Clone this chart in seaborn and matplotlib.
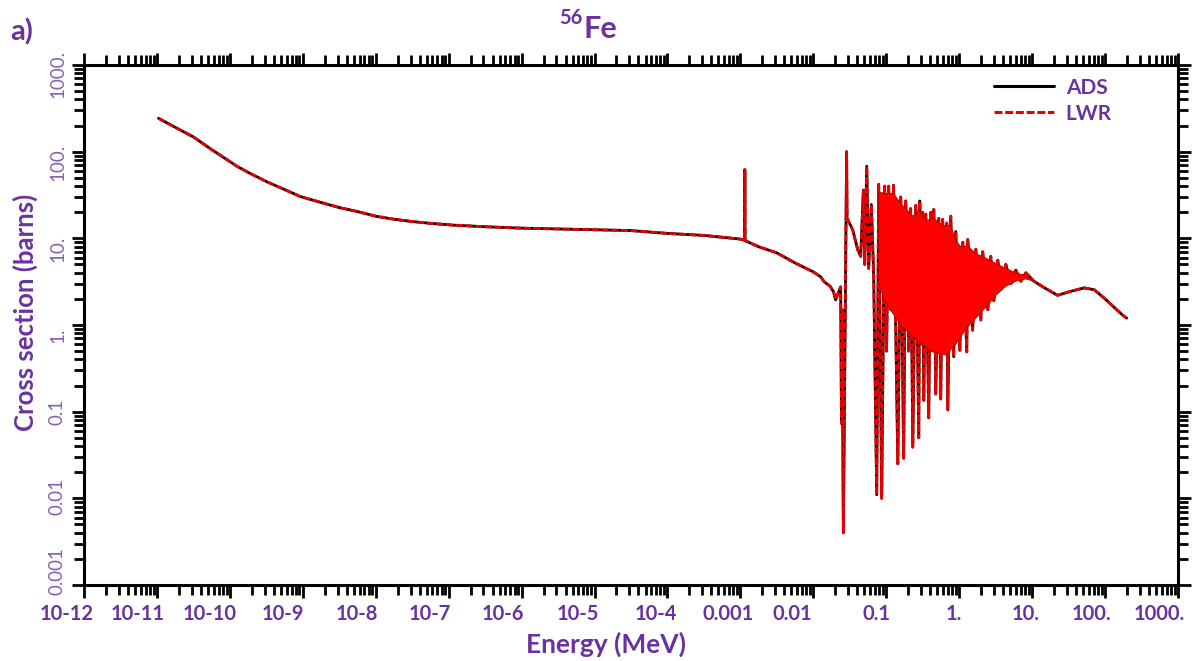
import numpy as np
import pandas as pd
import matplotlib
matplotlib.use("Agg")
import matplotlib.pyplot as plt
import seaborn as sns
from matplotlib.ticker import LogLocator, NullFormatter
from matplotlib.transforms import ScaledTranslation

# ---------------- data ----------------
energy_mev = [
    1.05e-11, 1.78e-11, 3.2e-11, 5.6e-11, 1.26e-10, 1.78e-10, 3.2e-10,
    5.6e-10, 9.2e-10, 1.78e-9, 3.2e-9, 5.6e-9, 1.0e-8, 1.78e-8, 3.2e-8,
    5.6e-8, 1.15e-7, 3.2e-7, 1.0e-6, 3.1e-5, 1.0e-4, 3.2e-4, 1.0e-3,
    1.14e-3, 1.15e-3, 1.16e-3, 1.78e-3, 3.16e-3, 5.6e-3, 0.0100, 0.0126,
    0.0141, 0.0170, 0.0190, 0.0202, 0.0237, 0.0243, 0.0248,
    0.0258, 0.0286, 0.0290, 0.0346, 0.0406, 0.0446, 0.0485, 0.0506, 0.0540,
    0.0574, 0.0625, 0.0673, 0.0740, 0.0787, 0.0865, 0.0951, 0.101, 0.108,
    0.115, 0.126, 0.144, 0.158, 0.173, 0.185, 0.203, 0.216, 0.231, 0.254,
    0.279, 0.288, 0.306, 0.316, 0.327, 0.348, 0.382, 0.407, 0.434, 0.448,
    0.477, 0.525, 0.558, 0.594, 0.630, 0.675, 0.697, 0.766, 0.841, 0.897,
    1.02, 1.12, 1.27, 1.31, 1.53, 1.69, 1.98, 2.10, 2.47, 2.71, 2.98, 3.38,
    3.72, 4.36, 5.10, 5.97, 7.00, 8.19, 10.6, 14.6, 22.3, 34.0, 51.8, 71.0,
    97.0, 133.0, 174.0, 198.0,
]
xs_ads = [
    243, 191, 147, 106, 67.6, 57.7, 45,
    36.6, 30.4, 25.9, 22.6, 20.4, 18.0, 16.6, 15.6,
    14.9, 14.2, 13.6, 13.1, 12.3, 11.4, 10.8, 9.8,
    9.5, 62, 9.4, 8.0, 6.8, 5.2, 4.1, 3.6,
    3.15, 2.8, 2.4, 1.95, 2.75, 0.073, 1.5,
    0.004, 100, 17, 12.6, 7.4, 6.2, 36, 5.0, 68,
    4.5, 24.6, 3.5, 0.011, 42, 0.010, 40, 0.5, 40,
    1.5, 41, 0.025, 30, 0.029, 27, 0.5, 22, 0.039, 24,
    0.05, 27, 0.6, 20, 0.135, 19, 0.085, 20, 0.5, 21.5,
    0.16, 17, 0.14, 16.5, 0.5, 15, 0.105, 18, 0.43, 12,
    0.51, 9, 0.49, 9.7, 0.87, 7.5, 1.14, 7.0, 1.5, 6.2, 1.9, 5.6,
    2.75, 5.0, 3.0, 4.3, 3.2, 4.0, 3.2, 2.7, 2.2, 2.45, 2.68, 2.55,
    2.05, 1.6, 1.3, 1.2,
]
xs_lwr = list(xs_ads)  # both curves coincide in the reference

# dense resonance band, upper and lower edges
band_upper_e = [0.0787, 0.0982, 0.126, 0.158, 0.185, 0.231, 0.279, 0.348,
                0.448, 0.594, 0.766, 0.897, 1.05, 1.31, 1.69, 2.10, 2.71,
                3.38, 4.36, 5.97, 8.19, 10.6]
band_upper_xs = [34, 33, 33, 25, 22, 18, 21, 16, 17, 14, 14, 9.5, 8, 8.2,
                 6.6, 6.2, 5.5, 5.0, 4.5, 4.0, 3.7, 3.2]
band_lower_e = [0.0787, 0.0982, 0.158, 0.254, 0.407, 0.653, 0.897, 1.23,
                1.69, 2.31, 3.18, 4.36, 5.97, 8.19, 10.6]
band_lower_xs = [3.0, 1.8, 1.0, 0.7, 0.5, 0.45, 0.6, 0.9, 1.2, 1.6, 2.2,
                 2.8, 3.2, 3.4, 3.2]

x_tick_values = [1e-12, 1e-11, 1e-10, 1e-9, 1e-8, 1e-7, 1e-6, 1e-5, 1e-4,
                 1e-3, 1e-2, 1e-1, 1e0, 1e1, 1e2, 1e3]
x_tick_labels = ["10-12", "10-11", "10-10", "10-9", "10-8", "10-7", "10-6",
                 "10-5", "10-4", "0.001", "0.01", "0.1", "1.", "10.", "100.",
                 "1000."]
y_tick_values = [1e-3, 1e-2, 1e-1, 1e0, 1e1, 1e2, 1e3]
y_tick_labels = ["0.001", "0.01", "0.1", "1.", "10.", "100.", "1000."]

series_names = ["ADS", "LWR"]

# ---------------- style ----------------
PURPLE = "#6a329f"
PURPLE_LIGHT = "#8660b4"
sns.set_theme(style="ticks")
plt.rcParams["font.family"] = ["Lato", "DejaVu Sans"]

fig = plt.figure(figsize=(12.03, 6.61), dpi=100)
L, R, T, B = 84, 1178, 65, 585
W, H = 1203, 661
ax = fig.add_axes([L / W, 1 - B / H, (R - L) / W, (B - T) / H])

n = len(energy_mev)
df = pd.DataFrame({
    "Energy": energy_mev + energy_mev,
    "CrossSection": xs_ads + xs_lwr,
    "Reactor": [series_names[0]] * n + [series_names[1]] * n,
})

ax.set_xscale("log")
ax.set_yscale("log")

sns.lineplot(
    data=df, x="Energy", y="CrossSection", hue="Reactor", style="Reactor",
    palette={"ADS": "black", "LWR": "#e80000"},
    dashes={"ADS": "", "LWR": (2.6, 0.9)},
    estimator=None, sort=False, lw=2.0, ax=ax, zorder=2,
)

# solid red band of the dense resonances (drawn over the line edges)
poly_e = list(band_upper_e) + list(band_lower_e[::-1])
poly_xs = list(band_upper_xs) + list(band_lower_xs[::-1])
ax.fill(poly_e, poly_xs, facecolor="#ff0000", edgecolor="#b00000", lw=0.6, zorder=3)

ax.set_xlim(1e-12, 1e3)
ax.set_ylim(1e-3, 1e3)

ax.set_xticks(x_tick_values)
ax.set_xticklabels(x_tick_labels)
ax.set_yticks(y_tick_values)
ax.set_yticklabels(y_tick_labels)
ax.xaxis.set_minor_locator(LogLocator(base=10, subs=np.arange(2, 10), numticks=100))
ax.yaxis.set_minor_locator(LogLocator(base=10, subs=np.arange(2, 10), numticks=100))
ax.xaxis.set_minor_formatter(NullFormatter())
ax.yaxis.set_minor_formatter(NullFormatter())

ax.tick_params(which="both", direction="out", top=True, right=True,
               color="black", width=2.0)
ax.tick_params(which="major", length=9)
ax.tick_params(which="minor", length=7)
ax.tick_params(axis="x", which="major", labelsize=14.5, labelcolor=PURPLE, pad=5)
ax.tick_params(axis="y", which="major", labelsize=13.5, labelcolor=PURPLE_LIGHT, pad=4)

# the reference's labels sit a little off their ticks
x_label_shift_px = [-17, -19, -20, -20, -19, -19, -19, -17, -12, -12, -21,
                    -10, -5, -6, -14, -19]
for lab, dx in zip(ax.get_xticklabels(), x_label_shift_px):
    lab.set_fontweight("bold")
    lab.set_transform(lab.get_transform() + ScaledTranslation(dx / 100, 0, fig.dpi_scale_trans))
y_label_shift_px = [14, 2, 0, -10, -11, -11, -9]
for lab, dy in zip(ax.get_yticklabels(), y_label_shift_px):
    lab.set_rotation(90)
    lab.set_va("center")
    lab.set_transform(lab.get_transform() + ScaledTranslation(0, dy / 100, fig.dpi_scale_trans))

for sp in ax.spines.values():
    sp.set_linewidth(2.2)
    sp.set_color("black")

ax.set_xlabel("Energy (MeV)", fontsize=19, fontweight="bold", color=PURPLE)
ax.set_ylabel("Cross section (barns)", fontsize=18.5, fontweight="bold", color=PURPLE)
ax.xaxis.set_label_coords((606 - L) / (R - L), -(644 - B) / (B - T))
ax.xaxis.label.set_va("center")
ax.yaxis.set_label_coords(-(L - 25) / (R - L), (B - 312) / (B - T))
ax.yaxis.label.set_va("center")

# legend
sns.move_legend(ax, "upper left", bbox_to_anchor=((975 - L) / (R - L), 1.012),
                frameon=False, title=None, handlelength=2.9,
                fontsize=15, handletextpad=0.55, labelspacing=0.3)
leg = ax.get_legend()
leg.set_zorder(5)
for t in leg.get_texts():
    t.set_color(PURPLE)
    t.set_fontweight("bold")
for h in leg.get_lines():
    h.set_linewidth(2.2)

# title and panel letter
fig.text(584 / W, 1 - 38 / H, "Fe", fontsize=22, fontweight="bold",
         color=PURPLE, ha="left", va="baseline")
fig.text(583 / W, 1 - 24 / H, "56", fontsize=14.5, fontweight="bold",
         color=PURPLE, ha="right", va="baseline")
fig.text(10 / W, 1 - 40 / H, "a)", fontsize=21, fontweight="bold",
         color=PURPLE, ha="left", va="baseline")

fig.savefig("out.png", dpi=100, facecolor="white")
